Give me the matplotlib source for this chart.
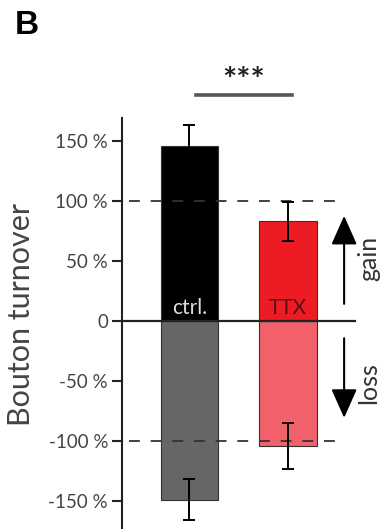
import matplotlib.pyplot as plt

plt.rcParams['font.family'] = ['Lato', 'DejaVu Sans']

# bouton turnover (% of baseline), gain above zero, loss below
groups = ['ctrl.', 'TTX']
gain = [146, 83]
gain_err = [17, 16]
loss = [-149, -104]
loss_err = [17, 19]
yticks = [150, 100, 50, 0, -50, -100, -150]
yticklabels = ['150 %', '100 %', '50 %', '0', '-50 %', '-100 %', '-150 %']

gain_colors = ['#000000', '#ED1C24']
loss_colors = ['#666666', '#F2616A']
label_colors = ['#dddddd', '#5a1010']

fig = plt.figure(figsize=(3.85, 5.29), dpi=100)
ax = fig.add_axes([122 / 385, 0, 263 / 385, (529 - 118) / 529])

x = [1, 2]
w = 0.58
ax.bar(x, loss, w, color=loss_colors, edgecolor='#333333', linewidth=0.8, zorder=2)
ax.bar(x, gain, w, color=gain_colors, edgecolor='#333333', linewidth=0.8, zorder=2)

# error bars (upper part for gain, lower part for loss)
for xi, g, ge, l, le in zip(x, gain, gain_err, loss, loss_err):
    ax.errorbar(xi, g, yerr=ge, color='black', capsize=4, elinewidth=1.4,
                capthick=1.4, zorder=4)
    ax.errorbar(xi, l, yerr=le, color='black', capsize=4, elinewidth=1.4,
                capthick=1.4, zorder=4)

for xi, name, c in zip(x, groups, label_colors):
    ax.text(xi, 11, name, color=c, ha='center', va='center', fontsize=15, zorder=5)

# reference lines
ax.plot([0.315, 2.68], [0, 0], color='#222222', lw=1.6, zorder=3, clip_on=False)
for yv in [100, -100]:
    ax.plot([0.39, 2.5], [yv, yv], color='#333333', lw=1.3, ls=(0, (6, 6)), zorder=3)

# gain / loss arrows
arrow = dict(arrowstyle='-|>,head_length=1.8,head_width=0.8', color='black', lw=1.5)
ax.annotate('', xy=(2.57, 90), xytext=(2.57, 12), arrowprops=arrow)
ax.annotate('', xy=(2.57, -83), xytext=(2.57, -12), arrowprops=arrow)
ax.text(2.82, 52, 'gain', rotation=90, ha='center', va='center', fontsize=18, color='#333333')
ax.text(2.82, -52, 'loss', rotation=90, ha='center', va='center', fontsize=18, color='#333333')

# significance bar
ax.plot([1.066, 2.04], [188, 188], color='#555555', lw=2.6, clip_on=False)
ax.text(1.55, 200, '***', ha='center', va='center', fontsize=24, color='#222222',
        fontweight='bold')

ax.set_xlim(0.315, 2.985)
ax.set_ylim(-173.3, 169.2)
ax.set_xticks([])
ax.set_yticks(yticks)
ax.set_yticklabels(yticklabels, fontsize=13.5, color='#444444')
ax.tick_params(axis='y', direction='out', length=7, width=1.5, color='#222222', pad=3)
for s in ['top', 'right', 'bottom']:
    ax.spines[s].set_visible(False)
ax.spines['left'].set_linewidth(1.5)
ax.spines['left'].set_color('#222222')
ax.set_ylabel('Bouton turnover', fontsize=22, color='#444444')
ax.yaxis.set_label_coords(-0.33, (529 - 314) / 411)

fig.text(15 / 385, 1 - 26 / 529, 'B', fontsize=24, fontweight='bold', va='center', ha='left',
         family=['Liberation Sans', 'DejaVu Sans'])

fig.savefig('out.png', dpi=100)
